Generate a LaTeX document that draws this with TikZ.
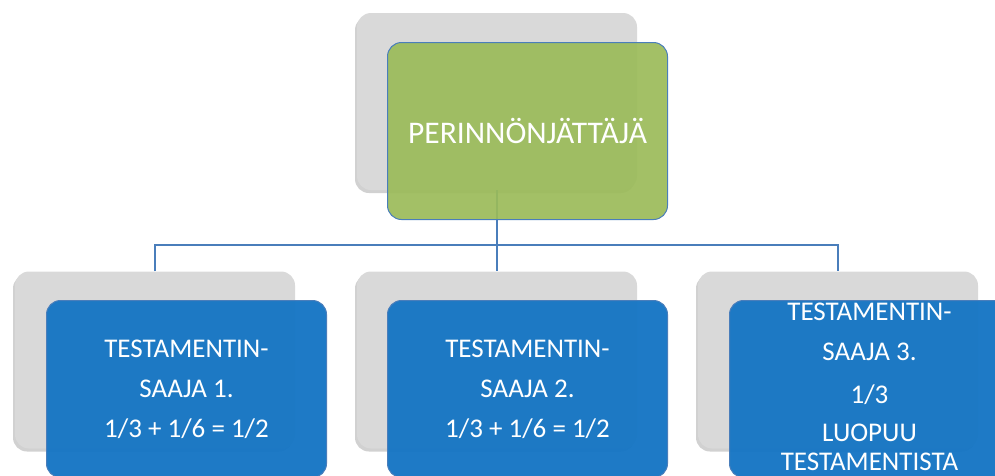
\documentclass[tikz,border=0pt]{standalone}
\usepackage{fontspec}
\setmainfont{Carlito}
\usetikzlibrary{shadows}
\definecolor{boxgray}{RGB}{217,217,217}
\definecolor{leafgreen}{RGB}{155,187,89}
\definecolor{leafblue}{RGB}{23,118,196}
\definecolor{edgeblue}{RGB}{74,126,187}
\begin{document}
\begin{tikzpicture}[x=1pt,y=-1pt,
  backbox/.style={draw=none,fill=boxgray,rounded corners=14pt,minimum width=280pt,minimum height=177pt,inner sep=0pt,
    drop shadow={shadow xshift=-2pt,shadow yshift=-3pt,opacity=0.3,fill=black!60}},
  frontbox/.style={draw=edgeblue,line width=1pt,rounded corners=14pt,minimum width=280pt,minimum height=177pt,inner sep=0pt,
    text=white,align=center,font=\fontsize{27}{33}\selectfont},
  conn/.style={draw=edgeblue,line width=1.5pt}]
\useasboundingbox (0,0) rectangle (995,475);
% back boxes
\node[backbox] (g0) at (497,101.5) {};
\node[backbox] (g1) at (155,360) {};
\node[backbox] (g2) at (497,360) {};
\node[backbox] (g3) at (838,360) {};
% connectors
\coordinate (h) at (497,245);
\draw[conn] (g0.south) -- (h);
\draw[conn] (g1.north) |- (h) -| (g3.north);
\draw[conn] (h) -- (g2.north);
% front boxes
\node[frontbox,fill=leafgreen,fill opacity=0.92,text opacity=1,font=\fontsize{31.5}{36}\selectfont] (c0) at (527.5,131) {PERINNÖNJÄTTÄJÄ};
\node[frontbox,fill=leafblue,fill opacity=0.97,text opacity=1] (c1) at (186.5,389) {TESTAMENTIN-\\[7pt]SAAJA 1.\\[7pt]1/3 + 1/6 = 1/2};
\node[frontbox,fill=leafblue,fill opacity=0.97,text opacity=1] (c2) at (527.5,389) {TESTAMENTIN-\\[7pt]SAAJA 2.\\[7pt]1/3 + 1/6 = 1/2};
\node[frontbox,fill=leafblue,fill opacity=0.97,text opacity=1] (c3) at (869.5,389) {};
\node[text=white,align=center,font=\fontsize{27}{29}\selectfont,anchor=north] (t3) at (869.5,299) {TESTAMENTIN-\\[11pt]SAAJA 3.\\[14pt]1/3\\[9pt]LUOPUU\\TESTAMENTISTA};
\end{tikzpicture}
\end{document}
